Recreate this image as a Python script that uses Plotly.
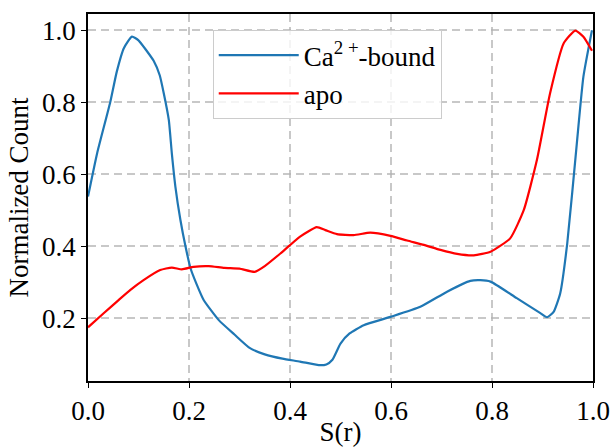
import plotly.graph_objects as go

ca_x = [0.0, 0.018, 0.044, 0.057, 0.071, 0.087, 0.1, 0.115, 0.130, 0.142, 0.150, 0.160, 0.166, 0.173,
        0.183, 0.193, 0.203, 0.215, 0.229, 0.259, 0.29, 0.32, 0.35, 0.385, 0.42, 0.457, 0.472, 0.484,
        0.50, 0.518, 0.546, 0.599, 0.658, 0.711, 0.757, 0.777, 0.797, 0.849, 0.895, 0.909, 0.922,
        0.935, 0.949, 0.968, 0.981, 0.998]
ca_y = [0.538, 0.658, 0.800, 0.885, 0.950, 0.982, 0.972, 0.945, 0.915, 0.875, 0.825, 0.751, 0.658, 0.566,
        0.473, 0.400, 0.339, 0.295, 0.251, 0.195, 0.155, 0.118, 0.100, 0.088, 0.080, 0.070, 0.072, 0.085,
        0.13, 0.158, 0.181, 0.204, 0.232, 0.274, 0.304, 0.306, 0.302, 0.256, 0.215, 0.203, 0.218,
        0.269, 0.408, 0.686, 0.871, 1.0]

apo_x = [0.0, 0.031, 0.06, 0.084, 0.11, 0.143, 0.166, 0.186, 0.209, 0.239, 0.27, 0.30, 0.33, 0.35,
         0.381, 0.42, 0.453, 0.47, 0.493, 0.526, 0.559, 0.599, 0.632, 0.665, 0.698, 0.731, 0.764,
         0.797, 0.836, 0.863, 0.889, 0.915, 0.942, 0.965, 0.981, 0.998]
apo_y = [0.175, 0.214, 0.25, 0.279, 0.306, 0.334, 0.341, 0.336, 0.343, 0.345, 0.34, 0.338, 0.329, 0.345,
         0.38, 0.427, 0.453, 0.445, 0.434, 0.431, 0.438, 0.429, 0.416, 0.404, 0.390, 0.379, 0.375,
         0.385, 0.422, 0.501, 0.640, 0.825, 0.964, 0.999, 0.982, 0.943]

x_ticks = [0.0, 0.2, 0.4, 0.6, 0.8, 1.0]
y_ticks = [0.2, 0.4, 0.6, 0.8, 1.0]

FONT = "Liberation Serif"
FS = 27

fig = go.Figure()
fig.add_trace(go.Scatter(x=ca_x, y=ca_y, mode="lines", name="Ca<sup>2 +</sup>-bound",
                         line=dict(color="#1f77b4", width=2.2, shape="spline", smoothing=0.5)))
fig.add_trace(go.Scatter(x=apo_x, y=apo_y, mode="lines", name="apo",
                         line=dict(color="#ff0000", width=2.2, shape="spline", smoothing=0.5)))

axis_common = dict(showline=True, linecolor="black", linewidth=1.6, mirror=True,
                   ticks="outside", ticklen=5, tickwidth=1.4, tickcolor="black",
                   showgrid=True, gridcolor="rgba(176,176,176,0.7)", gridwidth=1.8,
                   griddash="8px,5px", zeroline=False, automargin=False,
                   tickfont=dict(family=FONT, size=FS, color="black"))

fig.update_xaxes(range=[0, 1], tickvals=x_ticks, ticktext=[f"{v:.1f}" for v in x_ticks],
                 title=dict(text="S(r)", font=dict(family=FONT, size=FS, color="black"), standoff=2),
                 **axis_common)
fig.update_yaxes(range=[0.026, 1.045], tickvals=y_ticks, ticktext=[f"{v:.1f}" for v in y_ticks],
                 title=dict(text="Normalized Count", font=dict(family=FONT, size=FS, color="black"), standoff=6),
                 **axis_common)

fig.update_layout(
    width=613, height=447,
    margin=dict(l=88, r=20, t=14, b=66),
    plot_bgcolor="white", paper_bgcolor="white",
    font=dict(family=FONT, size=FS, color="black"),
    legend=dict(x=0.247, y=0.956, xanchor="left", yanchor="top",
                bgcolor="rgba(255,255,255,0.8)", bordercolor="#cccccc", borderwidth=1,
                font=dict(family=FONT, size=FS, color="black"), tracegroupgap=0,
                itemwidth=80),
    showlegend=True,
)

fig.write_html("out.html")
